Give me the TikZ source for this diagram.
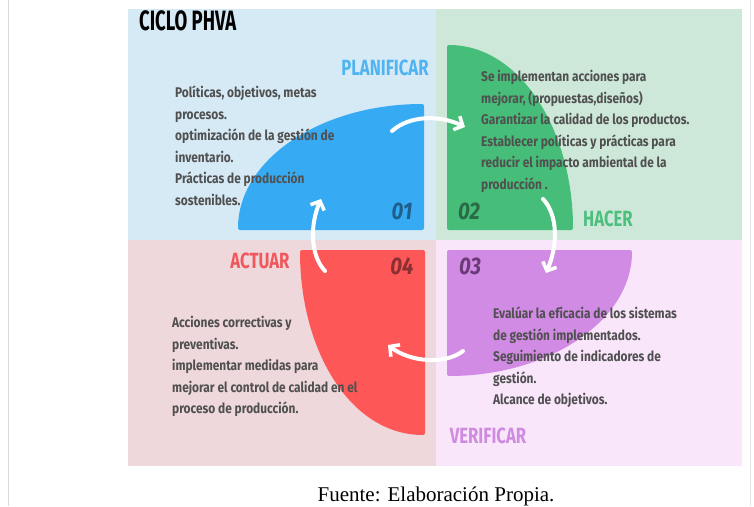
\documentclass[tikz,border=0pt]{standalone}
\usepackage{fontspec}
\setmainfont{Fira Sans}
\newfontfamily\condfont[FakeStretch=0.85,Ligatures=NoCommon]{Fira Sans}
\newfontfamily\phasefont[FakeStretch=0.76]{Fira Sans}
\newfontfamily\titlefont[FakeStretch=0.66]{Fira Sans}
\newfontfamily\capfont{Liberation Serif}
\usetikzlibrary{arrows.meta}
\definecolor{bgTL}{HTML}{D6EAF6}
\definecolor{bgTR}{HTML}{CDE8D9}
\definecolor{bgBL}{HTML}{EED8DB}
\definecolor{bgBR}{HTML}{F9E6FB}
\definecolor{shBlue}{HTML}{37AAF4}
\definecolor{shGreen}{HTML}{46BD78}
\definecolor{shRed}{HTML}{FE5757}
\definecolor{shPurple}{HTML}{D28BE4}
\definecolor{numBlue}{HTML}{1E5F8C}
\definecolor{numGreen}{HTML}{2B6A47}
\definecolor{numRed}{HTML}{8A2F33}
\definecolor{numPurple}{HTML}{6B3A78}
\definecolor{lblBlue}{HTML}{4FB4F1}
\definecolor{lblGreen}{HTML}{4DC07F}
\definecolor{lblRed}{HTML}{F0585E}
\definecolor{lblPurple}{HTML}{CF8BE0}
\definecolor{txt}{HTML}{505050}
\tikzset{
  body/.style={anchor=north west, inner sep=0pt, align=left, text=txt,
    font=\condfont\bfseries\fontsize{14}{21.5}\selectfont},
  phase/.style={inner sep=0pt, font=\phasefont\bfseries\fontsize{22}{22}\selectfont},
  num/.style={inner sep=0pt, font=\condfont\bfseries\itshape\fontsize{24}{24}\selectfont},
  cyc/.style={white, line width=4pt, line cap=round, -{Straight Barb[length=7pt,width=15pt,line width=3.5pt]}}
}
\begin{document}
\begin{tikzpicture}[x=1pt,y=-1pt]
\fill[white] (0,0) rectangle (754,506);
\useasboundingbox (0,0) rectangle (754,506);
\draw[black!15, line width=1.5pt] (8.5,0) -- (8.5,506);
\draw[black!10, line width=1pt] (750,0) -- (750,506);
% quadrants
\fill[bgTL] (128,9) rectangle (436,240);
\fill[bgTR] (436,9) rectangle (742,240);
\fill[bgBL] (128,240) rectangle (436,466);
\fill[bgBR] (436,240) rectangle (742,466);
% quarter shapes
\fill[shBlue, rounded corners=2pt] (424,230) -- (238,230) .. controls (238,160) and (320,104) .. (424,104) -- cycle;
\fill[shGreen, rounded corners=2pt] (447,230) -- (447,45) .. controls (520,45) and (573,130) .. (573,230) -- cycle;
\fill[shPurple, rounded corners=2pt] (447,250) -- (632,250) .. controls (632,320) and (550,376) .. (447,376) -- cycle;
\fill[shRed, rounded corners=2pt] (425,250) -- (425,435) .. controls (350,435) and (300,350) .. (300,250) -- cycle;
% title
\node[anchor=west, inner sep=0pt, font=\titlefont\bfseries\fontsize{28}{28}\selectfont] (title) at (139,21) {CICLO PHVA};
% phase labels
\node[phase, text=lblBlue] (plan) at (385,68) {PLANIFICAR};
\node[phase, text=lblGreen] (hacer) at (608,219) {HACER};
\node[phase, text=lblRed] (actuar) at (260,261) {ACTUAR};
\node[phase, text=lblPurple] (verif) at (488,436) {VERIFICAR};
% numbers
\node[num, text=numBlue] (n1) at (402,211) {01};
\node[num, text=numGreen] (n2) at (469,211) {02};
\node[num, text=numPurple] (n3) at (470,266) {03};
\node[num, text=numRed] (n4) at (402,266) {04};
% bodies
\node[body] (tl) at (175,86) {Políticas, objetivos, metas\\procesos.\\optimización de la gestión de\\inventario.\\Prácticas de producción\\sostenibles.};
\node[body] (tr) at (481,70) {Se implementan acciones para\\mejorar, (propuestas,diseños)\\Garantizar la calidad de los productos.\\Establecer políticas y prácticas para\\reducir el impacto ambiental de la\\producción .};
\node[body] (bl) at (172,316) {Acciones correctivas y\\preventivas.\\implementar medidas para\\mejorar el control de calidad en el\\proceso de producción.};
\node[body] (br) at (493,307) {Evalúar la eficacia de los sistemas\\de gestión implementados.\\Seguimiento de indicadores de\\gestión.\\Alcance de objetivos.};
% arrows
\coordinate (a1s) at (392,131); \coordinate (a1e) at (465,127);
\coordinate (a2s) at (543,199); \coordinate (a2e) at (546,273);
\coordinate (a3s) at (463,351); \coordinate (a3e) at (388,345);
\coordinate (a4s) at (325,271); \coordinate (a4e) at (321,199);
\draw[cyc] (a1s) .. controls (410,115) and (440,115) .. (a1e);
\draw[cyc] (a2s) .. controls (558,215) and (558,245) .. (a2e);
\draw[cyc] (a3s) .. controls (445,365) and (410,362) .. (a3e);
\draw[cyc] (a4s) .. controls (310,255) and (310,225) .. (a4e);
% caption
\node[inner sep=0pt, anchor=base, font=\capfont\fontsize{21}{21}\selectfont] (cap) at (436,501) {Fuente: Elaboración Propia.};
\end{tikzpicture}
\end{document}
